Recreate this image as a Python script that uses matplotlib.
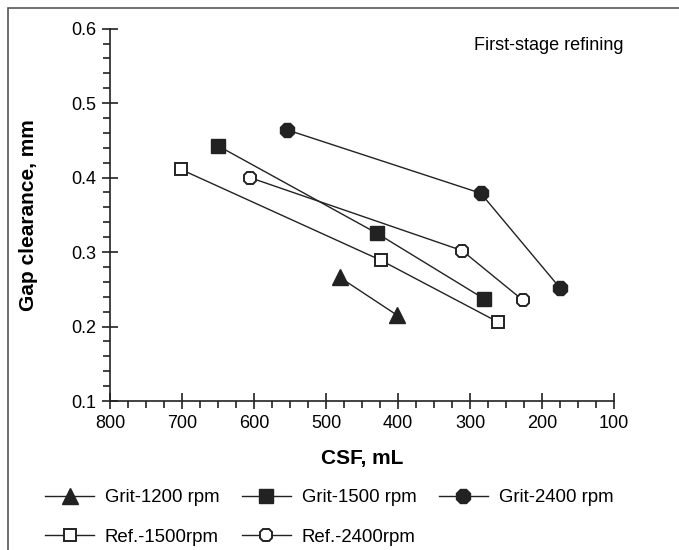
import matplotlib.pyplot as plt
from matplotlib.patches import Rectangle
from matplotlib.ticker import MultipleLocator

plt.rcParams['font.family'] = ['Liberation Sans', 'DejaVu Sans']

# Datos (CSF en mL, holgura en mm)
g1200_csf = [481, 401]
g1200_gap = [0.266, 0.215]
g1500_csf = [651, 429, 280]
g1500_gap = [0.443, 0.325, 0.237]
g2400_csf = [554, 285, 175]
g2400_gap = [0.464, 0.379, 0.252]
r1500_csf = [702, 424, 261]
r1500_gap = [0.411, 0.289, 0.206]
r2400_csf = [606, 311, 226]
r2400_gap = [0.400, 0.302, 0.235]

c = '#222222'

fig = plt.figure(figsize=(6.79, 5.5), dpi=100)
ax = fig.add_axes([0.1626, 0.2709, 0.7414, 0.677])

l1, = ax.plot(g1200_csf, g1200_gap, '-', marker='^', color=c, lw=1.0,
              markersize=11, label='Grit-1200 rpm')
l2, = ax.plot(g1500_csf, g1500_gap, '-', marker='s', color=c, lw=1.0,
              markersize=9.5, label='Grit-1500 rpm')
l3, = ax.plot(g2400_csf, g2400_gap, '-', marker='8', color=c, lw=1.0,
              markersize=10.5, label='Grit-2400 rpm')
l4, = ax.plot(r1500_csf, r1500_gap, '-', marker='s', color=c, lw=1.0,
              markersize=9, markerfacecolor='white', markeredgewidth=1.4,
              label='Ref.-1500rpm')
l5, = ax.plot(r2400_csf, r2400_gap, '-', marker='8', color=c, lw=1.0,
              markersize=9.5, markerfacecolor='white', markeredgewidth=1.4,
              label='Ref.-2400rpm')

ax.set_xlim(800, 100)
ax.set_ylim(0.1, 0.6)
ax.xaxis.set_major_locator(MultipleLocator(100))
ax.xaxis.set_minor_locator(MultipleLocator(25))
ax.yaxis.set_major_locator(MultipleLocator(0.1))
ax.yaxis.set_minor_locator(MultipleLocator(0.02))
ax.yaxis.set_major_formatter(plt.FormatStrFormatter('%.1f'))

for s in ['top', 'right']:
    ax.spines[s].set_visible(False)
for s in ['left', 'bottom']:
    ax.spines[s].set_color(c)
    ax.spines[s].set_linewidth(1.2)

ax.tick_params(which='major', direction='inout', length=12, width=1.2,
               color=c, labelsize=13, pad=4)
ax.tick_params(which='minor', direction='out', length=5, width=1.2, color=c)

ax.set_xlabel('CSF, mL', fontsize=15, fontweight='bold', labelpad=12)
ax.set_ylabel('Gap clearance, mm', fontsize=15, fontweight='bold', labelpad=24)

fig.text(474 / 679, 1 - 45 / 550, 'First-stage refining', fontsize=13,
         va='center', ha='left')

fig.legend([l1, l4, l2, l5, l3],
           [h.get_label() for h in [l1, l4, l2, l5, l3]],
           ncol=3, loc='upper left', bbox_to_anchor=(36 / 679, 1 - 480 / 550),
           frameon=False, fontsize=13.4, handlelength=2.6, handletextpad=0.6,
           columnspacing=1.22, labelspacing=1.2, borderpad=0)

# Marco de la figura
fig.patches.append(Rectangle((8 / 679, -0.1), 2, 1.1 - 8 / 550,
                             transform=fig.transFigure, fill=False,
                             edgecolor='#555555', linewidth=1.2))

plt.savefig('out.png', dpi=100)
